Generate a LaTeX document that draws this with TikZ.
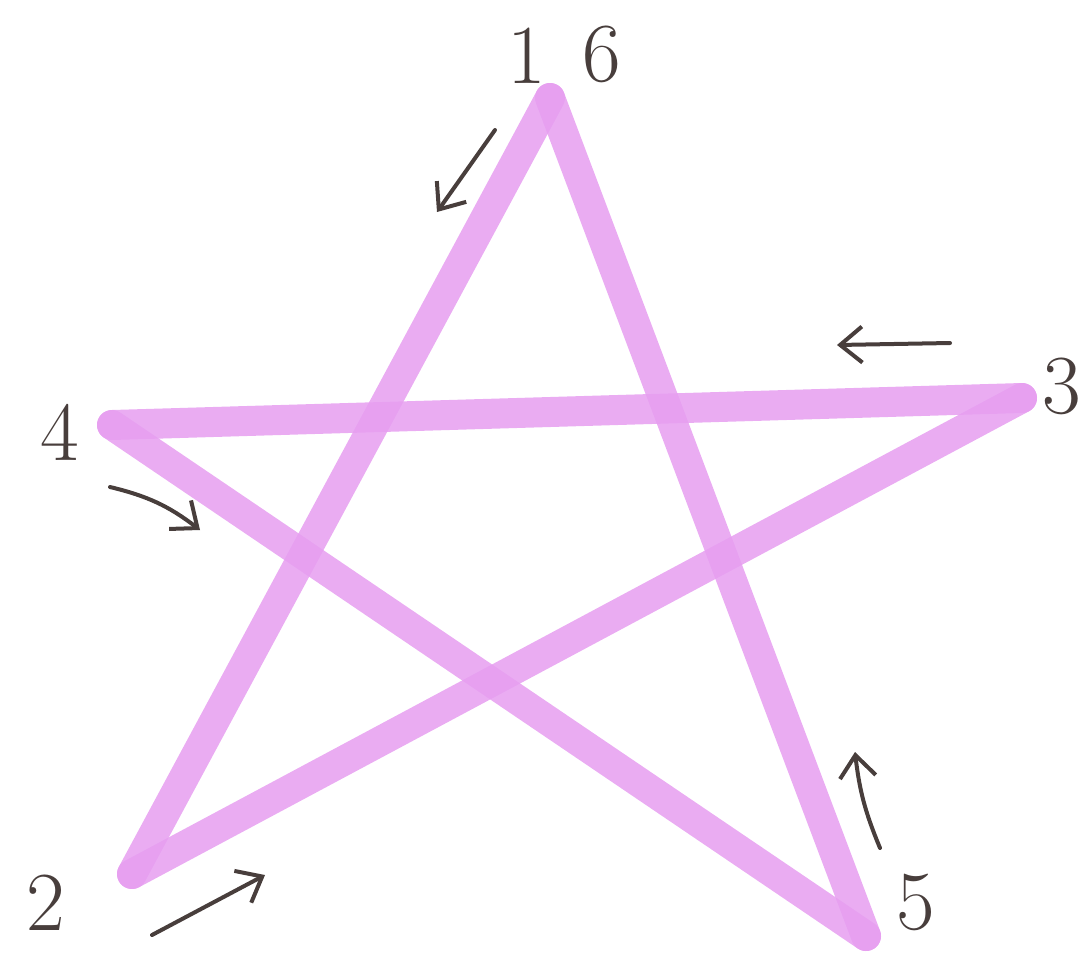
\documentclass[tikz,border=0pt]{standalone}
\usetikzlibrary{arrows.meta}
\definecolor{starpink}{RGB}{230,158,240}
\definecolor{ink}{RGB}{72,62,60}
\tikzset{
  stroke/.style={draw=starpink, line width=30pt, line cap=round, line join=round, opacity=0.85},
  num/.style={text=ink, font=\fontsize{84}{84}\selectfont, inner sep=0pt},
  hint/.style={draw=ink, line width=4pt, line cap=round, -{Straight Barb[length=22pt,width=36pt,line width=4pt]}}
}
\begin{document}
\begin{tikzpicture}[x=1pt,y=-1pt]
\useasboundingbox (0,0) rectangle (1091,967);
% vertices
\coordinate (v1) at (550,98);
\coordinate (v2) at (132,874);
\coordinate (v3) at (1022,398);
\coordinate (v4) at (112,425);
\coordinate (v5) at (866,936);
% star strokes
\draw[stroke] (v1) -- (v2);
\draw[stroke] (v2) -- (v3);
\draw[stroke] (v3) -- (v4);
\draw[stroke] (v4) -- (v5);
\draw[stroke] (v5) -- (v1);
% labels
\node[num] (n1) at (527,56) {1};
\node[num] (n6) at (602,54) {6};
\node[num] (n4) at (60,432) {4};
\node[num] (n3) at (1062,386) {3};
\node[num] (n2) at (46,903) {2};
\node[num] (n5) at (916,902) {5};
% direction arrows
\coordinate (a1s) at (495,130); \coordinate (a1e) at (437,212);
\coordinate (a3s) at (950,343); \coordinate (a3e) at (837,345);
\coordinate (a4s) at (110,487); \coordinate (a4e) at (200,530);
\coordinate (a2s) at (152,935); \coordinate (a2e) at (265,875);
\coordinate (a5s) at (880,848); \coordinate (a5e) at (855,752);
\draw[hint] (a1s) -- (a1e);
\draw[hint] (a3s) -- (a3e);
\draw[hint] (a4s) to[bend left=12] (a4e);
\draw[hint] (a2s) -- (a2e);
\draw[hint] (a5s) to[bend left=8] (a5e);
\end{tikzpicture}
\end{document}
